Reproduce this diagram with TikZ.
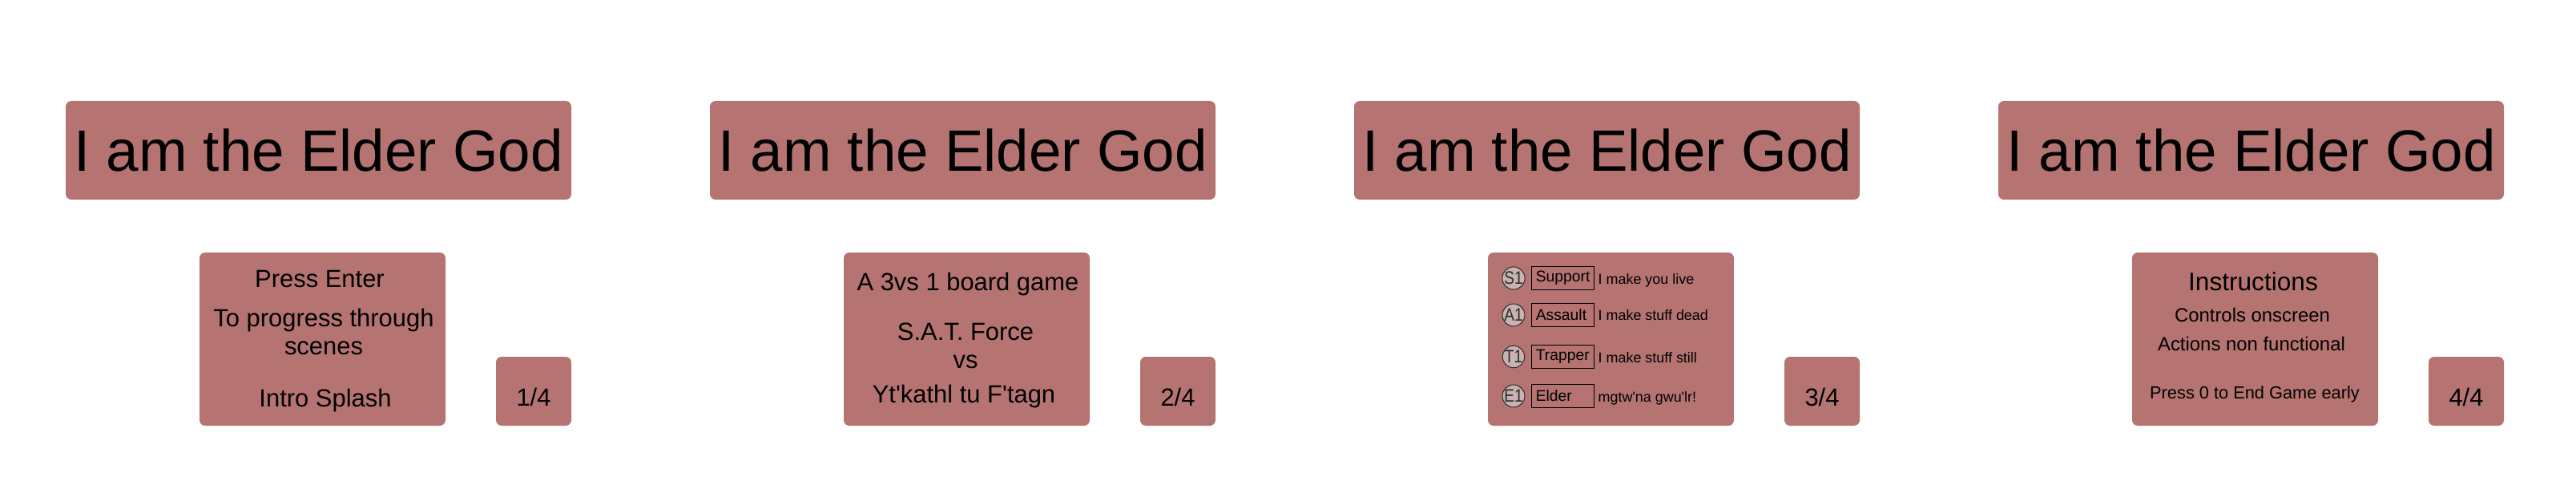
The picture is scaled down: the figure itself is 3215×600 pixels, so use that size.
\documentclass[tikz,border=0pt]{standalone}
\usepackage{fontspec}
\setmainfont{Liberation Sans}
\definecolor{rose}{RGB}{181,116,114}
\definecolor{ash}{RGB}{200,178,178}
\definecolor{soot}{RGB}{45,45,45}
\newcommand\ap{\textquotesingle}
\tikzset{
  card/.style={fill=rose, rounded corners=0.7mm, inner sep=0pt},
  banner/.style={card, minimum width=63.1mm, minimum height=12.3mm, font={\fontsize{20.7}{24}\selectfont}},
  slab/.style={card, minimum width=30.7mm, minimum height=21.6mm},
  tab/.style={card, minimum width=9.4mm, minimum height=8.6mm},
  line/.style={anchor=base, inner sep=0pt, font={\fontsize{8.8}{9.7}\selectfont}},
  smallline/.style={line, font={\fontsize{6.8}{8}\selectfont}},
  tinyline/.style={line, font={\fontsize{6.2}{7.5}\selectfont}},
  token/.style={circle, draw=soot, line width=0.1mm, fill=ash, minimum size=2.75mm, inner sep=0pt, text=soot, font={\fontsize{6.4}{7}\selectfont}},
  role/.style={draw=black, line width=0.12mm, minimum height=2.9mm, text width=6.75mm, inner xsep=0.5mm, inner ysep=0pt, align=left, font={\fontsize{5.5}{6}\selectfont}},
  blurb/.style={anchor=base west, inner sep=0pt, font={\fontsize{5.1}{6}\selectfont}}
}

\begin{document}
\begin{tikzpicture}[x=0.1mm, y=-0.1mm]
  \useasboundingbox (0,0) rectangle (3215,600);
  \foreach \k in {1,...,4}{
    \begin{scope}[xshift={(\k-1)*80.4mm}]
      \node[banner] (title\k) at (397.5,187.5) {I am the Elder God};
      \node[slab] (body\k) at (402.5,423) {};
      \node[tab] (page\k) at (666,488) {};
      \node[line] (num\k) at (666,506) {\k/4};
    \end{scope}
  }
  \begin{scope}
    \node[line] (enter) at (399,358) {Press Enter};
    \node[line, align=center] (progress) at (404,442) {To progress through\\scenes};
    \node[line] (splash) at (406,507) {Intro Splash};
  \end{scope}
  \begin{scope}[xshift=80.4mm]
    \node[line] (boardgame) at (404,362) {A 3vs 1 board game};
    \node[line, align=center] (force) at (401,459) {S.A.T. Force\\vs};
    \node[line] (ftagn) at (399,502) {Yt\ap kathl tu F\ap tagn};
  \end{scope}
  \begin{scope}[xshift=160.8mm]
    \foreach \t/\r/\d/\y in {S1/Support/I make you live/347, A1/Assault/I make stuff dead/393,
                             T1/Trapper/I make stuff still/445, E1/Elder/mgtw\ap na gwu\ap lr!/494}{
      \node[token] (tok\t) at (281,\y) {\scalebox{0.85}[1]{\t}};
      \node[role] (role\t) at (342.5,\y) {\r};
      \node[blurb] (blurb\t) at (386,\y+7) {\d};
    }
  \end{scope}
  \begin{scope}[xshift=241.2mm]
    \node[line, font={\fontsize{9}{10}\selectfont}] (instr) at (400,362) {Instructions};
    \node[smallline] (controls) at (399,402) {Controls onscreen};
    \node[smallline] (actions) at (398,437) {Actions non functional};
    \node[tinyline] (early) at (402,497.5) {Press 0 to End Game early};
  \end{scope}
\end{tikzpicture}
\end{document}
